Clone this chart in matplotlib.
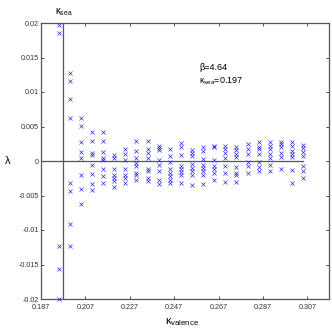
import matplotlib
matplotlib.use("Agg")
import matplotlib.pyplot as plt

plt.rcParams["font.family"] = ["Liberation Sans", "DejaVu Sans"]
plt.rcParams["mathtext.fontset"] = "custom"
plt.rcParams["mathtext.rm"] = "Liberation Sans"
plt.rcParams["mathtext.it"] = "Liberation Sans"

kappa_valence = [0.195, 0.200, 0.205, 0.210, 0.215, 0.220, 0.225, 0.230,
                 0.235, 0.240, 0.245, 0.250, 0.255, 0.260, 0.265, 0.270,
                 0.275, 0.280, 0.285, 0.290, 0.295, 0.300, 0.305]

# eigenvalues lambda at each kappa_valence
lam = [
    [0.0197, 0.0186, -0.0123, -0.0157, -0.0200],
    [0.0128, 0.0116, 0.0090, 0.0062, -0.0032, -0.0044, -0.0091, -0.0123],
    [0.0062, 0.0051, 0.0027, 0.0013, 0.0004, -0.0021, -0.0040, -0.0062],
    [0.0042, 0.0029, 0.0012, 0.0009, -0.0006, -0.0019, -0.0033, -0.0042],
    [0.0042, 0.0029, 0.0013, 0.0005, 0.0002, -0.0011, -0.0022, -0.0032],
    [0.0009, 0.0004, -0.0011, -0.0020, -0.0025, -0.0029, -0.0037],
    [0.0017, 0.0010, 0.0002, -0.0011, -0.0021, -0.0024, -0.0032],
    [0.0029, 0.0014, 0.0005, -0.0003, -0.0007, -0.0018, -0.0020, -0.0028],
    [0.0029, 0.0018, 0.0012, 0.0004, -0.0012, -0.0015, -0.0024, -0.0029],
    [0.0022, 0.0019, 0.0016, 0.0002, -0.0006, -0.0015, -0.0027, -0.0033],
    [0.0017, 0.0007, -0.0002, -0.0012, -0.0018, -0.0022, -0.0027, -0.0032],
    [0.0026, 0.0020, 0.0009, -0.0007, -0.0012, -0.0016, -0.0020, -0.0032],
    [0.0016, 0.0011, 0.0007, -0.0005, -0.0010, -0.0014, -0.0020, -0.0035],
    [0.0021, 0.0014, 0.0003, -0.0006, -0.0010, -0.0014, -0.0020, -0.0033],
    [0.0022, 0.0020, 0.0001, -0.0007, -0.0012, -0.0018, -0.0027],
    [0.0022, 0.0017, 0.0012, 0.0005, -0.0007, -0.0017, -0.0031],
    [0.0020, 0.0016, 0.0010, 0.0006, -0.0009, -0.0018, -0.0021, -0.0031],
    [0.0025, 0.0017, 0.0010, -0.0002, -0.0007, -0.0018],
    [0.0028, 0.0021, 0.0018, 0.0010, -0.0001, -0.0008, -0.0015],
    [0.0027, 0.0022, 0.0017, 0.0010, 0.0004, -0.0006, -0.0014],
    [0.0027, 0.0024, 0.0021, 0.0012, 0.0006, -0.0011],
    [0.0027, 0.0022, 0.0015, 0.0010, 0.0006, -0.0013, -0.0032],
    [0.0023, 0.0019, 0.0013, 0.0007, -0.0007, -0.0014, -0.0025],
]

kappa_sea = 0.197
beta = 4.64

x_ticks = [0.187, 0.207, 0.227, 0.247, 0.267, 0.287, 0.307]
y_ticks = [-0.02, -0.015, -0.01, -0.005, 0, 0.005, 0.01, 0.015, 0.02]
y_tick_labels = ["-0.02", "-0.015", "-0.01", "-0.005", "0",
                 "0.005", "0.01", "0.015", "0.02"]

W = H = 332
fig = plt.figure(figsize=(3.32, 3.32), dpi=100)
ax = fig.add_axes([41 / W, 1 - 299 / H, 288 / W, 276 / H])

xs = [k for k, vals in zip(kappa_valence, lam) for _ in vals]
ys = [v for vals in lam for v in vals]
ax.plot(xs, ys, "x", color="#2a2aff", markersize=2.6, markeredgewidth=0.5,
        linestyle="none", clip_on=False, zorder=3)

grey = "#555555"
ax.axvline(kappa_sea, color=grey, linewidth=0.9, zorder=2)
ax.plot([x_ticks[0], kappa_valence[-1]], [0, 0], color=grey, linewidth=0.9,
        zorder=2)

ax.set_xlim(0.187, 0.3167)
ax.set_ylim(-0.02, 0.02)
ax.set_xticks(x_ticks)
ax.set_xticklabels([f"{t:.3f}" for t in x_ticks])
ax.set_yticks(y_ticks)
ax.set_yticklabels(y_tick_labels)
ax.tick_params(direction="in", length=2.5, width=0.6, labelsize=5.2,
               top=True, right=True, colors="#333333")
ax.tick_params(axis="x", pad=3.5)
ax.tick_params(axis="y", pad=1.5)
for s in ax.spines.values():
    s.set_color(grey)
    s.set_linewidth(0.9)

fig.text(8 / W, 1 - 161 / H, "λ", fontsize=8, ha="center", va="center")
fig.text(165 / W, 1 - 322 / H, r"$\kappa_{\rm valence}$", fontsize=8,
         ha="left", va="center")
fig.text(55 / W, 1 - 12 / H, r"$\kappa_{\rm sea}$", fontsize=7,
         ha="left", va="center")
fig.text(199 / W, 1 - 68 / H, f"β={beta}", fontsize=6.5, ha="left",
         va="center")
fig.text(199 / W, 1 - 81 / H, r"$\kappa_{\rm sea}$" + f"={kappa_sea}",
         fontsize=6.5, ha="left", va="center")

fig.savefig("out.png", dpi=100)
